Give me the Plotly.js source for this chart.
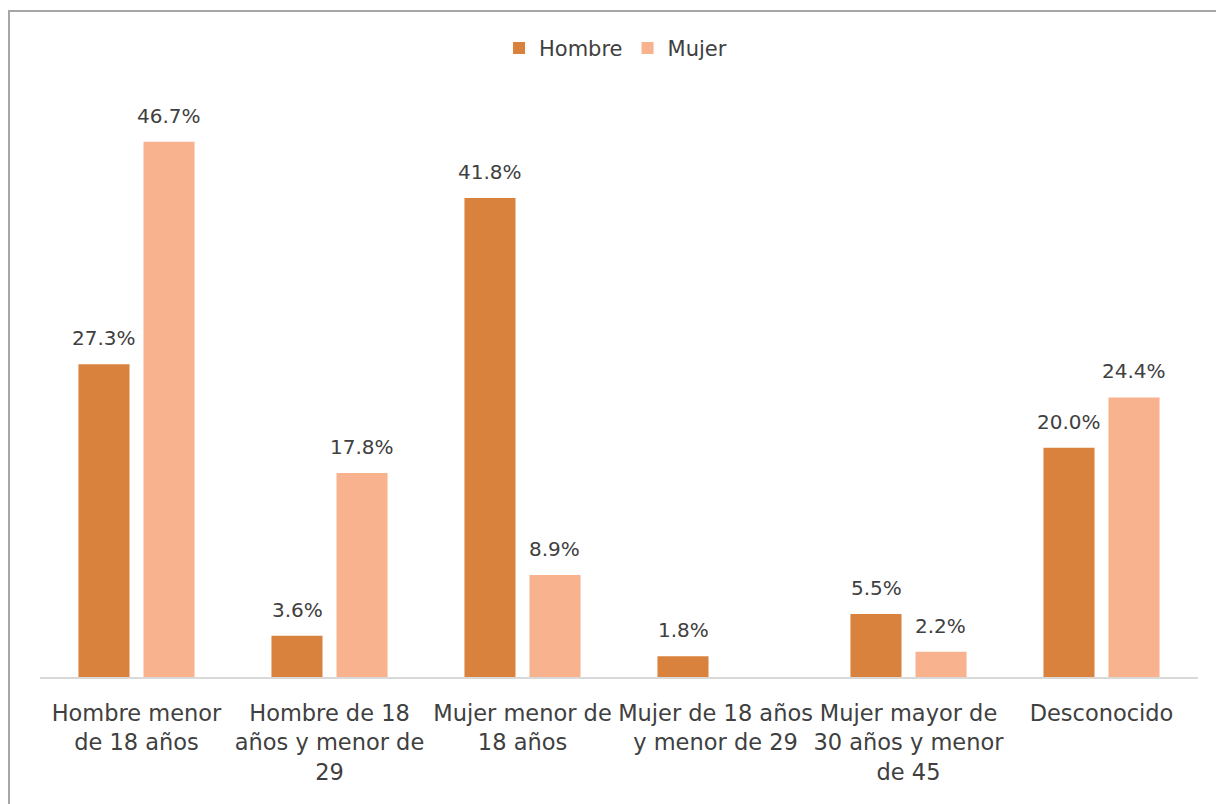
<!DOCTYPE html>
<html>
<head>
<meta charset="utf-8">
<script src="https://cdn.plot.ly/plotly-3.0.1.min.js"></script>
<style>
  body { margin: 0; background: #fff; }
  #wrap { position: relative; width: 1216px; height: 804px; overflow: hidden; }
  #chart { width: 1216px; height: 804px; }
  #frame { position: absolute; left: 8px; top: 10px; width: 1300px; height: 900px;
           border-left: 2px solid #a6a6a6; border-top: 2px solid #a6a6a6; pointer-events: none; }
</style>
</head>
<body>
<div id="wrap">
  <div id="chart"></div>
  <div id="frame"></div>
</div>
<script>
const categories = [
  "Hombre menor<br>de 18 años",
  "Hombre de 18<br>años y menor de<br>29",
  "Mujer menor de<br>18 años",
  "Mujer de 18 años<br>y menor de 29",
  "Mujer mayor de<br>30 años y menor<br>de 45",
  "Desconocido"
];
const seriesNames = ["Hombre", "Mujer"];
const hombre = [27.3, 3.6, 41.8, 1.8, 5.5, 20.0];
const mujer  = [46.7, 17.8, 8.9, 0, 2.2, 24.4];

const fmt = v => v > 0 ? v.toFixed(1) + '%' : '';
const fam = "'DejaVu Sans', sans-serif";
const labelFont = { family: fam, size: 20, color: '#404040' };
const tickFont = { family: fam, size: 22.5, color: '#404040' };
const colors = ['#D9823D', '#F8B38E'];

const traces = [hombre, mujer].map((vals, i) => ({
  type: 'bar', name: seriesNames[i], x: categories, y: vals,
  marker: { color: colors[i] }, hoverinfo: 'skip'
}));

// data labels as annotations, positioned through the axes from the data arrays
const groupOffset = 0.168;
const annotations = [];
[hombre, mujer].forEach((vals, si) => {
  vals.forEach((v, ci) => {
    const t = fmt(v);
    if (!t) return;
    annotations.push({
      xref: 'x', yref: 'y', x: ci + (si === 0 ? -groupOffset : groupOffset), y: v,
      text: t, showarrow: false, yanchor: 'middle', xanchor: 'center', yshift: 26,
      font: labelFont
    });
  });
});

const layout = {
  width: 1216, height: 804,
  margin: { l: 40, r: 18, t: 104, b: 127 },
  paper_bgcolor: '#fff', plot_bgcolor: '#fff',
  barmode: 'group', bargap: 0.326, bargroupgap: 0.215,
  font: labelFont,
  showlegend: true,
  legend: { orientation: 'h', x: 0.497, xanchor: 'center', y: 0.94, yref: 'container',
            yanchor: 'middle', font: { family: fam, size: 21, color: '#404040' }, traceorder: 'normal' },
  xaxis: { showline: true, linecolor: '#d9d9d9', linewidth: 2, ticks: '', tickangle: 0,
           tickfont: tickFont, showgrid: false, zeroline: false, automargin: false,
           ticklabelstandoff: 15 },
  yaxis: { range: [0, 50], visible: false, showgrid: false, zeroline: false, fixedrange: true },
  annotations: annotations
};

Plotly.newPlot('chart', traces, layout, { displayModeBar: false, staticPlot: true });
</script>
</body>
</html>
